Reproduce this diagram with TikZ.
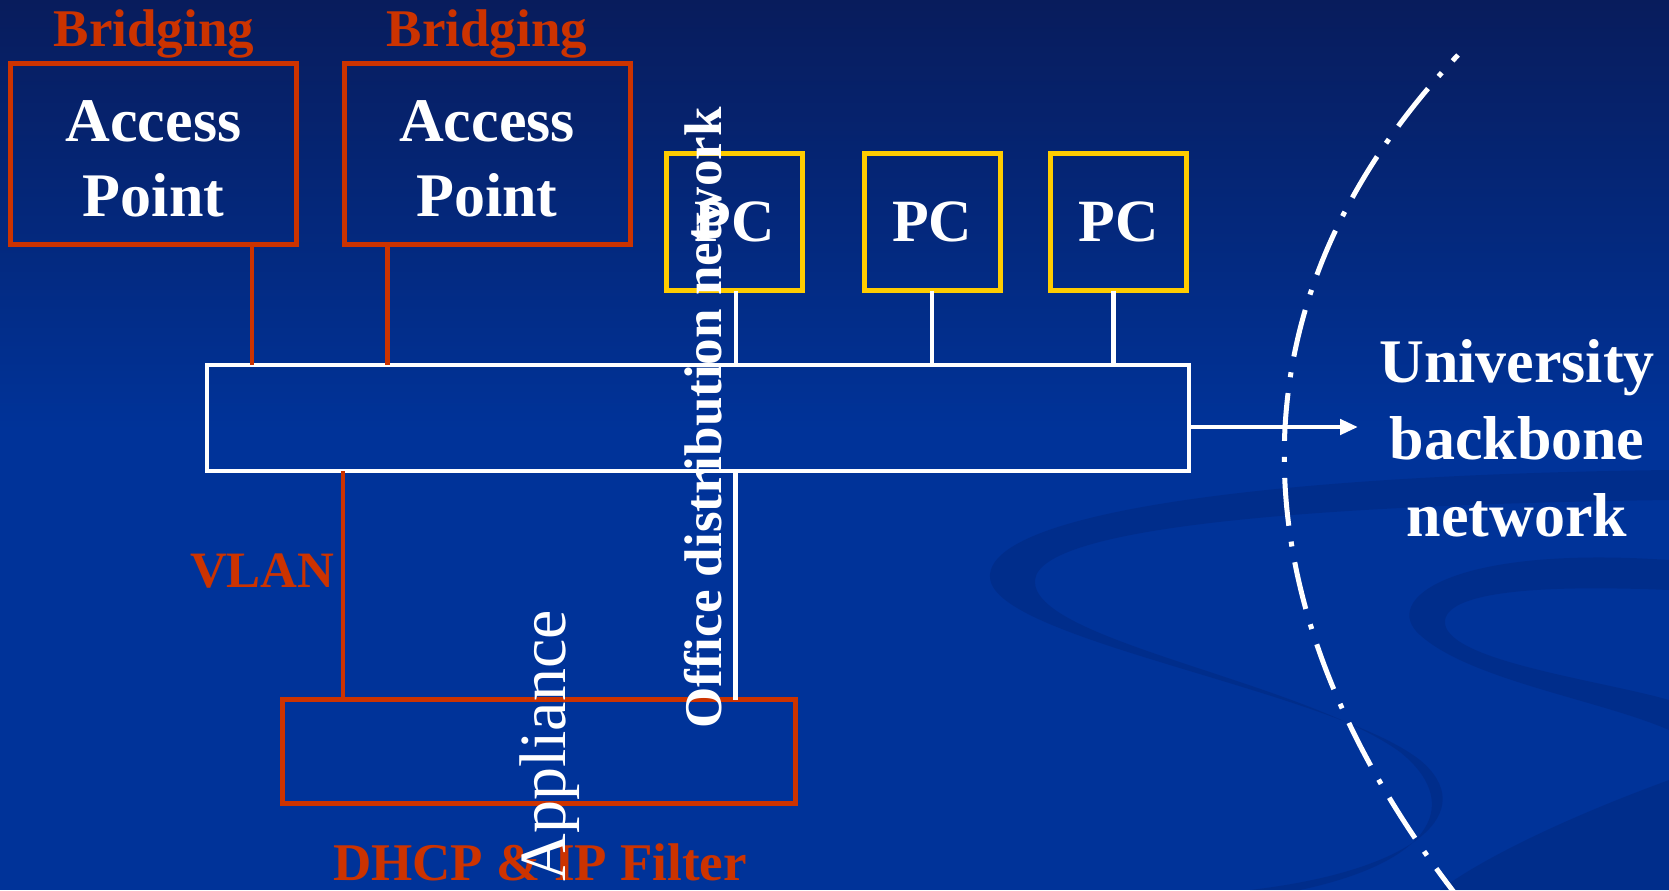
\documentclass[tikz,border=0pt]{standalone}
\usepackage{fontspec}
\setmainfont{Liberation Serif}
\usetikzlibrary{arrows.meta}
\definecolor{bgblue}{RGB}{0,51,153}
\definecolor{bgtop}{RGB}{8,28,92}
\definecolor{apred}{RGB}{204,51,0}
\definecolor{pcyellow}{RGB}{255,204,0}
\definecolor{swooshc}{RGB}{0,36,120}
\begin{document}
\begin{tikzpicture}[x=0.5pt,y=-0.5pt,
  apbox/.style={draw=apred, line width=2.5pt, minimum width=143pt, minimum height=90.5pt,
    inner sep=0pt, outer sep=0pt},
  aptext/.style={text=white, align=center, inner sep=0pt,
    font=\bfseries\fontsize{31}{37.5}\selectfont},
  pcbox/.style={draw=pcyellow, line width=2.5pt, minimum width=68pt, minimum height=68.5pt,
    inner sep=0pt, outer sep=0pt, text=white, font=\bfseries\fontsize{30}{36}\selectfont},
  busbox/.style={draw=white, line width=2.3pt, minimum width=491pt, minimum height=53pt,
    inner sep=0pt, outer sep=0pt},
  appbox/.style={draw=apred, line width=2.5pt, minimum width=256.5pt, minimum height=52pt,
    inner sep=0pt, outer sep=0pt},
  redlabel/.style={text=apred, inner sep=0pt, font=\bfseries\fontsize{26.5}{32}\selectfont},
  redlink/.style={draw=apred, line width=2.3pt},
  whitelink/.style={draw=white, line width=2.3pt},
  vtext/.style={text=white, rotate=90, anchor=base, inner sep=0pt},
  swoosh/.style={fill=swooshc, opacity=0.4},
  line join=miter]

\useasboundingbox (0,0) rectangle (1669,890);
\clip (0,0) rectangle (1669,890);

% background
\fill[bgblue] (0,0) rectangle (1669,890);
\shade[top color=bgtop, bottom color=bgblue] (0,0) rectangle (1669,430);
\fill[swoosh] (1669,470) .. controls (1250,475) and (985,515) .. (990,578)
  .. controls (995,640) and (1330,690) .. (1420,760)
  .. controls (1480,810) and (1420,870) .. (1250,890) -- (1300,890)
  .. controls (1440,860) and (1460,800) .. (1400,752)
  .. controls (1300,680) and (1030,640) .. (1035,580)
  .. controls (1040,528) and (1300,505) .. (1669,500) -- cycle;
\fill[swoosh] (1669,560) .. controls (1450,545) and (1380,600) .. (1420,635)
  .. controls (1470,680) and (1600,700) .. (1669,730) -- (1669,700)
  .. controls (1600,680) and (1440,660) .. (1445,620)
  .. controls (1450,590) and (1550,585) .. (1669,590) -- cycle;
\fill[swoosh] (1669,780) .. controls (1560,820) and (1480,860) .. (1440,890) -- (1669,890) -- cycle;

% nodes
\node[apbox] (ap1) at (153.5,154) {};
\node[apbox] (ap2) at (487,154) {};
\node[aptext] (ap1t) at ([yshift=-2.5pt]ap1.center) {Access\\Point};
\node[aptext] (ap2t) at ([yshift=-2.5pt]ap2.center) {Access\\Point};
\node[redlabel, anchor=base] (br1) at (154,46) {Bridging};
\node[redlabel, anchor=base] (br2) at (487,46) {Bridging};

\node[pcbox] (pc1) at (734.5,222) {\raisebox{-3pt}{PC}};
\node[pcbox] (pc2) at (932,222) {\raisebox{-3pt}{PC}};
\node[pcbox] (pc3) at (1118.5,222) {\raisebox{-3pt}{PC}};

\node[busbox] (bus) at (698,418) {};
\node[appbox] (app) at (539,751.5) {};

\node[redlabel, anchor=base east, font=\bfseries\fontsize{25.5}{30}\selectfont] (vlan) at (335,587) {VLAN};
\node[redlabel, anchor=base] (dhcp) at (540,880) {DHCP \& IP Filter};

\node[text=white, align=center, inner sep=0pt, font=\bfseries\fontsize{31}{38.5}\selectfont] (uni) at (1517,438) {University\\backbone\\network};

\coordinate (bb) at (1358,427);

% connectors
\draw[redlink] ([xshift=49.25pt]ap1.south) -- ([xshift=49.25pt]ap1.south |- bus.north);
\draw[redlink] ([xshift=-49.75pt]ap2.south) -- ([xshift=-49.75pt]ap2.south |- bus.north);
\draw[whitelink] ([xshift=0.75pt]pc1.south) -- ([xshift=0.75pt]pc1.south |- bus.north);
\draw[whitelink] (pc2.south) -- (pc2.south |- bus.north);
\draw[whitelink] ([xshift=-2.5pt]pc3.south) -- ([xshift=-2.5pt]pc3.south |- bus.north);
\draw[redlink] (bus.south -| vlan.east) ++(4pt,0) coordinate (vtop) -- (vtop |- app.north);
\draw[whitelink] ([xshift=18.75pt]bus.south) -- ([xshift=18.75pt]bus.south |- app.north);
\draw[whitelink, -{Triangle[length=9pt,width=7.5pt]}] ([yshift=-4.5pt]bus.east) -- (bb);

% boundary
\draw[white, line width=2.5pt, dash pattern=on 24pt off 8pt on 2.5pt off 8pt, dash phase=20pt]
  (1458,55) .. controls (1226,300) and (1226,600) .. (1460,900);

% rotated labels
\node[vtext, font=\bfseries\fontsize{26.5}{32}\selectfont] (office) at (721,418) {Office distribution network};
\node[vtext, font=\fontsize{33}{40}\selectfont] (appl) at (565,746) {Appliance};
\end{tikzpicture}
\end{document}
